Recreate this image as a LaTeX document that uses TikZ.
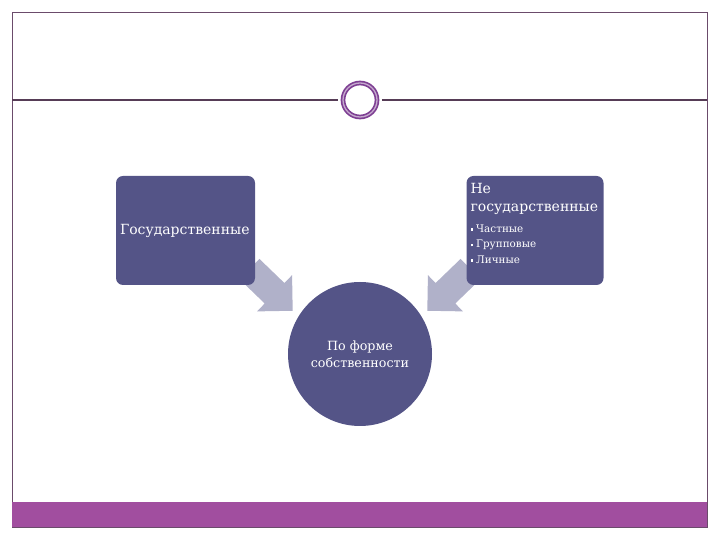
\documentclass[tikz,border=0pt]{standalone}
\usepackage{fontspec}
\setmainfont{DejaVu Serif}
\usetikzlibrary{shapes.arrows,positioning}
\definecolor{slate}{HTML}{545487}
\definecolor{plum}{HTML}{A14E9F}
\definecolor{ringc}{HTML}{7E3F93}
\definecolor{framec}{HTML}{6B4B6B}
\definecolor{arrowc}{HTML}{B0B1C9}
\tikzset{
  box/.style={rectangle,rounded corners=7pt,fill=slate,text=white,minimum width=137pt,minimum height=109pt,inner sep=4pt},
  boxtext/.style={text=white,align=left,inner sep=0pt},
  bigarrow/.style={single arrow,fill=arrowc,minimum height=60pt,inner xsep=0pt,inner ysep=14pt,single arrow head extend=11pt}
}
\newcommand{\sq}{\rule[0.25ex]{0.5ex}{0.5ex}\hspace{3pt}}

\begin{document}
\begin{tikzpicture}[x=1pt,y=1pt]
  \useasboundingbox (0,0) rectangle (720,540);
  % frame and bar
  \draw[framec,line width=0.9pt] (12,13) rectangle (707,528);
  \fill[plum] (12,13) rectangle (707,38);
  % top rule with ring
  \node[circle,draw=ringc,line width=1.7pt,double=ringc!45,double distance=1.3pt,minimum size=34pt] (ring) at (360,440) {};
  \coordinate (ruleL) at (12,440);
  \coordinate (ruleR) at (707,440);
  \draw[framec!80!black,line width=1.3pt] (ruleL) -- ([xshift=-4pt]ring.west)
                                         ([xshift=4pt]ring.east) -- (ruleR);
  % arrows
  \node[bigarrow,rotate=-44] (arrL) at (266,255) {};
  \node[bigarrow,rotate=-136] (arrR) at (454,255) {};
  % boxes
  \node[box,text width=131pt,align=left,font=\fontsize{14}{16}\selectfont] (gos) at (185.5,309.5) {Государственные};
  \node[box] (negos) at (535,309.5) {};
  \node[boxtext,anchor=north west,font=\fontsize{14}{18}\selectfont] (negosH)
       at ([xshift=4pt,yshift=-7pt]negos.north west) {Не\\государственные};
  \node[boxtext,font=\fontsize{10.4}{15.5}\selectfont] (negosL)
       [below=10pt of negosH.south west,anchor=north west] {\sq Частные\\ \sq Групповые\\ \sq Личные};
  \node[circle,fill=slate,text=white,minimum size=144pt,align=center,font=\fontsize{12.7}{17}\selectfont] (circ) at (360,186) {По форме\\собственности};
\end{tikzpicture}
\end{document}
